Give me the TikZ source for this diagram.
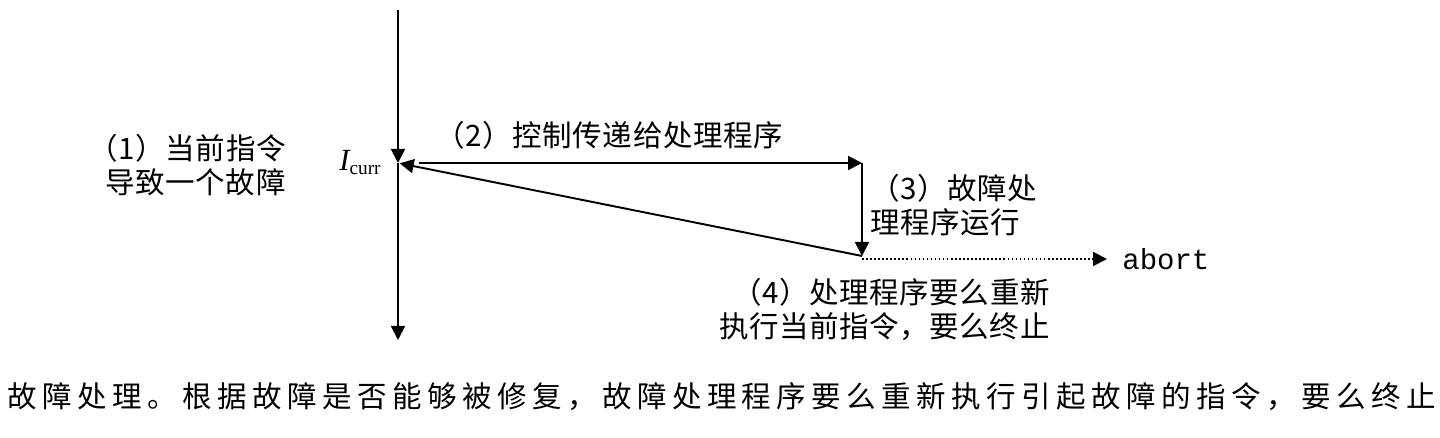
\documentclass[tikz,border=0pt]{standalone}
\usepackage{fontspec}
\usetikzlibrary{arrows.meta,positioning}
\newfontfamily\cjklbl[LetterSpace=2]{Noto Sans CJK SC}
\newfontfamily\cjkcap[LetterSpace=18.5]{Noto Sans CJK SC}
\newfontfamily\tms{Liberation Serif}
\newfontfamily\mono{Liberation Mono}

\begin{document}
\begin{tikzpicture}[
  every node/.style={inner sep=0pt},
  lbl/.style={font=\cjklbl\fontsize{16.8pt}{19pt}\selectfont},
  flow/.style={line width=1.1pt, -{Triangle[length=0.28cm,width=0.28cm]}},
  dotflow/.style={flow, dash pattern=on 0.9pt off 1.4pt}]
  \useasboundingbox (0,0) rectangle (28.8,8.76);
  % points on the control path
  \coordinate (top) at (7.96,8.56);
  \coordinate (curr) at (7.96,5.5);
  \coordinate (bot) at (7.96,1.96);
  \coordinate (hdl) at (17.24,5.5);
  \coordinate (ret) at (17.24,3.64);
  % labels
  \node (fault) [lbl, anchor=east, align=right] at (5.72,5.46) {（1）当前指令\\导致一个故障};
  \node (icurr) [anchor=base east] at (7.62,5.34)
    {{\tms\fontsize{17.5pt}{18pt}\selectfont\itshape I}\raisebox{-0.2em}{\tms\fontsize{11pt}{12pt}\selectfont curr}};
  \node (pass) [lbl, anchor=west] at (8.7,6.06) {（2）控制传递给处理程序};
  \node (run) [lbl, anchor=west, align=left] at (17.4,4.66) {（3）故障处\\理程序运行};
  \node (redo) [lbl, anchor=east, align=right] at (21.0,2.57) {（4）处理程序要么重新\\执行当前指令，要么终止};
  \node (abort) [anchor=west, font=\mono\fontsize{16.5pt}{19pt}\selectfont] at (22.44,3.58) {abort};
  % arrows
  \draw[flow] (top) -- (curr);
  \draw[flow] (curr) -- (bot);
  \draw[flow] ([xshift=0.42cm]curr) -- (hdl);
  \draw[flow] (hdl) -- (ret);
  \draw[flow, shorten >=1pt] (ret) -- (curr);
  \draw[dotflow] ([yshift=-0.06cm]ret) -- ([xshift=-0.3cm]abort.west);
  % caption
  \node (cap) [anchor=west, font=\cjkcap\fontsize{16.8pt}{19pt}\selectfont] at (0.14,0.82)
    {故障处理。根据故障是否能够被修复，故障处理程序要么重新执行引起故障的指令，要么终止};
\end{tikzpicture}
\end{document}
